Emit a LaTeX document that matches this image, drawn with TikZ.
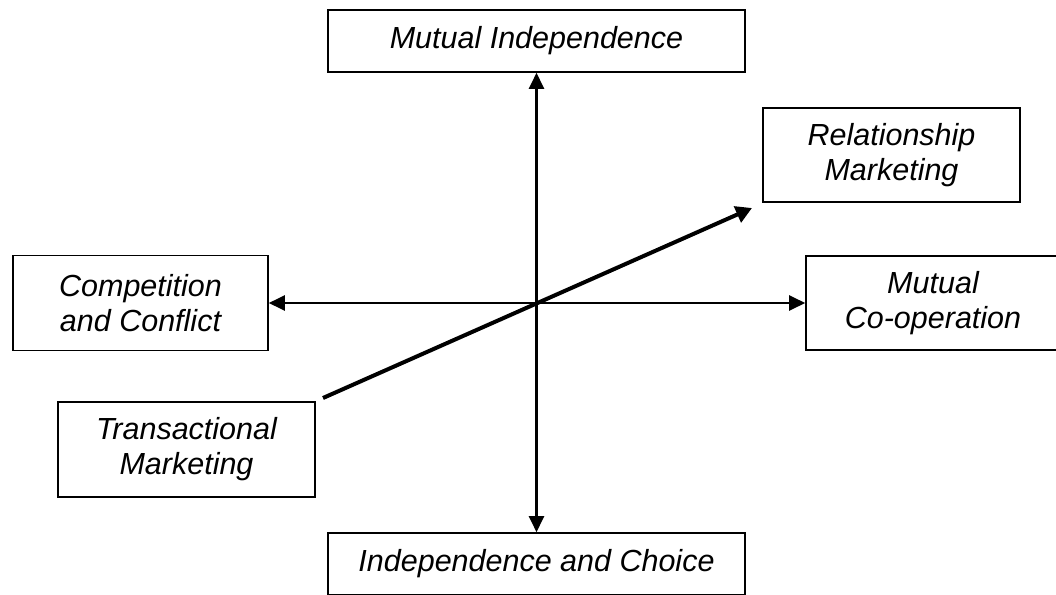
\documentclass[tikz,border=0pt]{standalone}
\usepackage{fontspec}
\setmainfont{Liberation Sans}
\usetikzlibrary{arrows.meta}
\begin{document}
\begin{tikzpicture}[x=1pt,y=-1pt,
  box/.style={draw, line width=1.6pt, inner sep=0pt, align=center,
    font=\fontsize{30.5}{35}\selectfont\itshape},
  axis/.style={line width=2.2pt, {Triangle[length=16pt,width=15pt]}-{Triangle[length=16pt,width=15pt]}},
  trend/.style={line width=4pt, -{Triangle[length=16pt,width=17pt]}}]
\useasboundingbox (0,0) rectangle (1056,594);
% boxes around the two axes
\node[box, minimum width=417pt, minimum height=62pt] (top) at (536.5,41) {Mutual Independence};
\node[box, minimum width=417pt, minimum height=62pt] (bottom) at (536.5,564) {Independence and Choice};
\node[box, minimum width=255pt, minimum height=95pt] (comp) at (140.5,303) {Competition\\and Conflict};
\node[box, minimum width=254pt, minimum height=94pt] (coop) at (933,303) {Mutual\\Co-operation};
\node[box, minimum width=257pt, minimum height=94pt] (rel) at (891.5,155) {Relationship\\Marketing};
\node[box, minimum width=257pt, minimum height=95pt] (trans) at (186.5,449.5) {Transactional\\Marketing};
% axes
\draw[axis] (top.south) -- (bottom.north);
\draw[axis] (comp.east) -- (coop.west);
% transactional to relationship marketing
\coordinate (from) at (323,398);
\coordinate (to) at (752,208);
\draw[trend] (from) -- (to);
\end{tikzpicture}
\end{document}
